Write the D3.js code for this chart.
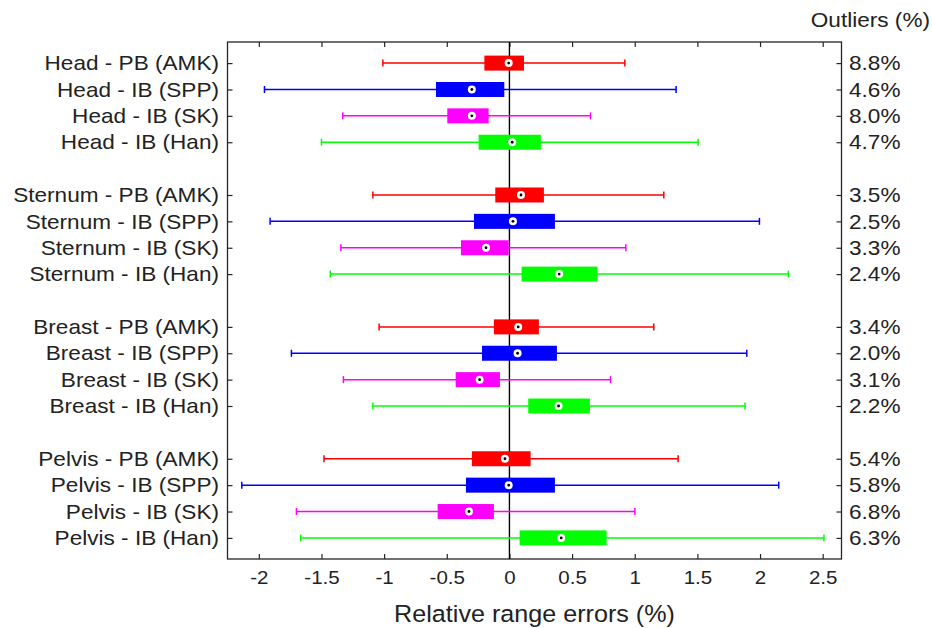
<!DOCTYPE html>
<html><head><meta charset="utf-8">
<script src="https://cdn.jsdelivr.net/npm/d3@7"></script>
<style>body{margin:0;background:#fff}svg text{font-family:"Liberation Sans",Arial,sans-serif;fill:#222}</style>
</head><body>
<svg id="c" width="932" height="628"></svg>
<script>
const categories = [
 "Head - PB (AMK)","Head - IB (SPP)","Head - IB (SK)","Head - IB (Han)",
 "Sternum - PB (AMK)","Sternum - IB (SPP)","Sternum - IB (SK)","Sternum - IB (Han)",
 "Breast - PB (AMK)","Breast - IB (SPP)","Breast - IB (SK)","Breast - IB (Han)",
 "Pelvis - PB (AMK)","Pelvis - IB (SPP)","Pelvis - IB (SK)","Pelvis - IB (Han)"];
const methods = ["AMK","SPP","SK","Han"];
const whiskerLow = [-1.01,-1.955,-1.33,-1.50, -1.09,-1.91,-1.345,-1.43, -1.04,-1.74,-1.325,-1.09, -1.48,-2.136,-1.70,-1.665];
const q1 =         [-0.20,-0.586,-0.496,-0.246, -0.113,-0.283,-0.387,0.097, -0.124,-0.219,-0.429,0.150, -0.30,-0.347,-0.573,0.081];
const median =     [-0.006,-0.30,-0.30,0.022, 0.092,0.028,-0.187,0.397, 0.070,0.065,-0.238,0.392, -0.036,-0.006,-0.323,0.413];
const q3 =         [0.116,-0.041,-0.166,0.251, 0.275,0.363,-0.006,0.703, 0.235,0.379,-0.076,0.642, 0.169,0.363,-0.124,0.775];
const whiskerHigh =[0.921,1.33,0.647,1.506, 1.232,1.995,0.929,2.226, 1.152,1.894,0.807,1.88, 1.346,2.149,1.001,2.51];
const outliers = ["8.8%","4.6%","8.0%","4.7%","3.5%","2.5%","3.3%","2.4%","3.4%","2.0%","3.1%","2.2%","5.4%","5.8%","6.8%","6.3%"];
const xTicks = [-2,-1.5,-1,-0.5,0,0.5,1,1.5,2,2.5];
const methodColors = ["#ff0000","#0000ff","#ff00ff","#00ff00"];

const svg = d3.select("#c");
const L=227.5, R=841.5, T=42, B=559;
const x = d3.scaleLinear().domain([-2.25,2.65]).range([L,R]);
const y = d3.scaleLinear().domain([-0.8,18.8]).range([T,B]);
const color = d3.scaleOrdinal().domain(methods).range(methodColors);
const slot = i => i + Math.floor(i/4);
const rows = categories.map((c,i)=>({c,i,s:slot(i),m:methods[i%4],lo:whiskerLow[i],q1:q1[i],md:median[i],q3:q3[i],hi:whiskerHigh[i],o:outliers[i]}));
const ax = "#262626";

// axes
const fmt = d => String(d);
const gB = svg.append("g").attr("transform",`translate(0,${B})`)
  .call(d3.axisBottom(x).tickValues(xTicks).tickFormat(fmt).tickSizeInner(-5).tickSizeOuter(0).tickPadding(12));
const gT = svg.append("g").attr("transform",`translate(0,${T})`)
  .call(d3.axisTop(x).tickValues(xTicks).tickFormat("").tickSizeInner(-5).tickSizeOuter(0));
const ySlots = rows.map(r=>r.s);
const gL = svg.append("g").attr("transform",`translate(${L},0)`)
  .call(d3.axisLeft(y).tickValues(ySlots).tickFormat("").tickSizeInner(-5).tickSizeOuter(0));
const gR = svg.append("g").attr("transform",`translate(${R},0)`)
  .call(d3.axisRight(y).tickValues(ySlots).tickFormat("").tickSizeInner(-5).tickSizeOuter(0));
[gB,gT,gL,gR].forEach(g=>{g.selectAll("path,line").attr("stroke",ax).attr("stroke-width",1.2);g.select(".domain").remove();});
gB.selectAll("text").attr("font-size","19px").attr("fill","#222").attr("transform","scale(1.08,1)")
  .style("font-family",'"Liberation Sans",Arial,sans-serif');
svg.append("rect").attr("x",L).attr("y",T).attr("width",R-L).attr("height",B-T).attr("fill","none").attr("stroke",ax).attr("stroke-width",1.3);

// zero line
svg.append("line").attr("x1",x(0)).attr("x2",x(0)).attr("y1",T).attr("y2",B).attr("stroke","#000").attr("stroke-width",1.4);

const g = svg.append("g");
const rg = g.selectAll("g.row").data(rows).join("g").attr("class","row");
rg.append("line").attr("x1",d=>x(d.lo)).attr("x2",d=>x(d.hi)).attr("y1",d=>y(d.s)).attr("y2",d=>y(d.s))
  .attr("stroke",d=>color(d.m)).attr("stroke-width",1.5);
rg.append("line").attr("x1",d=>x(d.lo)).attr("x2",d=>x(d.lo)).attr("y1",d=>y(d.s)-3.5).attr("y2",d=>y(d.s)+3.5)
  .attr("stroke",d=>color(d.m)).attr("stroke-width",1.5);
rg.append("line").attr("x1",d=>x(d.hi)).attr("x2",d=>x(d.hi)).attr("y1",d=>y(d.s)-3.5).attr("y2",d=>y(d.s)+3.5)
  .attr("stroke",d=>color(d.m)).attr("stroke-width",1.5);
rg.append("rect").attr("x",d=>x(d.q1)).attr("width",d=>x(d.q3)-x(d.q1)).attr("y",d=>y(d.s)-7.5).attr("height",15)
  .attr("fill",d=>color(d.m));
rg.append("circle").attr("cx",d=>x(d.md)).attr("cy",d=>y(d.s)).attr("r",4).attr("fill","#fff");
rg.append("circle").attr("cx",d=>x(d.md)).attr("cy",d=>y(d.s)).attr("r",1.4).attr("fill","#000");

// category labels
const SX = 1.13;
svg.append("g").selectAll("text").data(rows).join("text")
  .attr("transform",d=>`translate(219,${y(d.s)}) scale(${SX},1)`).attr("dy","0.36em").attr("text-anchor","end").attr("font-size","20px").text(d=>d.c);
// outlier labels
svg.append("g").selectAll("text").data(rows).join("text")
  .attr("transform",d=>`translate(849,${y(d.s)}) scale(${SX},1)`).attr("dy","0.36em").attr("text-anchor","start").attr("font-size","20px").text(d=>d.o);
svg.append("text").attr("transform",`translate(930,27) scale(${SX},1)`).attr("text-anchor","end").attr("font-size","20px").text("Outliers (%)");
svg.append("text").attr("transform",`translate(${(L+R)/2},622) scale(1.07,1)`).attr("text-anchor","middle").attr("font-size","23.5px").text("Relative range errors (%)");
</script>
</body></html>
